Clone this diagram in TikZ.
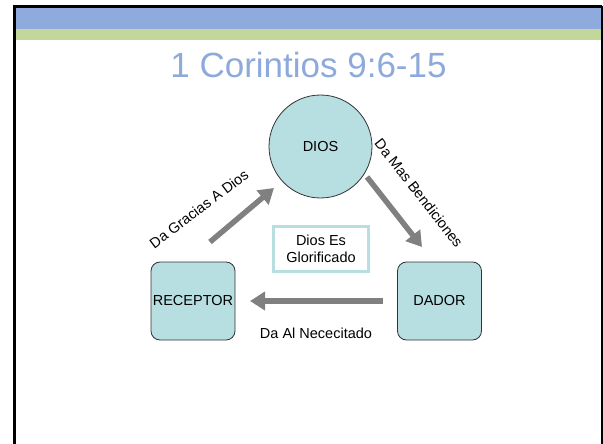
\documentclass[tikz,border=0pt]{standalone}
\usepackage{fontspec}
\setmainfont{Liberation Sans}
\usetikzlibrary{arrows.meta}
\definecolor{bandblue}{HTML}{8FAADC}
\definecolor{bandgreen}{HTML}{C4D79B}
\definecolor{nodeteal}{HTML}{B7DEE0}
\definecolor{titleblue}{HTML}{8EA9DB}

\begin{document}
\begin{tikzpicture}[
  x=1pt, y=-1pt,
  every node/.style={font=\fontsize{14.5}{16.5}\selectfont},
  blob/.style={draw=black!80, line width=0.8pt, fill=nodeteal},
  rbox/.style={blob, rounded corners=9pt, minimum width=84pt, minimum height=78pt, inner sep=0pt},
  glorybox/.style={draw=nodeteal, line width=3pt, fill=white, minimum width=95pt,
                   minimum height=45pt, inner sep=0pt, align=center},
  ar/.style={-{Triangle[length=15pt,width=18pt]}, line width=5.5pt, draw=black!50},
  lbl/.style={inner sep=0pt}
]
\useasboundingbox (0,0) rectangle (603,444);
% slide frame and header bands
\fill[bandblue] (16,8) rectangle (601,29);
\fill[bandgreen] (16,29) rectangle (601,40);
\draw[line width=3pt] (14.5,444) -- (14.5,6.5) -- (602,6.5);
\draw[line width=2pt] (602,6.5) -- (602,444);

\node[text=titleblue, font=\fontsize{35}{38}\selectfont] (title) at (308.5,65) {1 Corintios 9:6-15};

% the three parties
\node[blob, circle, minimum size=103pt, inner sep=0pt] (dios) at (320.5,146.5) {DIOS};
\node[rbox] (rec) at (193,301) {RECEPTOR};
\node[rbox] (dador) at (439.5,301) {DADOR};
\node[glorybox] (glory) at (321,249) {Dios Es\\Glorificado};

% arrow ends
\coordinate (g0) at (210,242);
\coordinate (g1) at (274,188);
\coordinate (b0) at (367,177);
\coordinate (b1) at (422,247);
\coordinate (n0) at (383,301);
\coordinate (n1) at (250,301);

\draw[ar] (g0) -- (g1);
\draw[ar] (b0) -- (b1);
\draw[ar] (n0) -- (n1);

\node[lbl, rotate=37] (gracias) at (199,209) {Da Gracias A Dios};
\node[lbl, rotate=-52] (mas) at (419,193) {Da Mas Bendiciones};
\node[lbl] (nec) at (316,333) {Da Al Nececitado};
\end{tikzpicture}
\end{document}
